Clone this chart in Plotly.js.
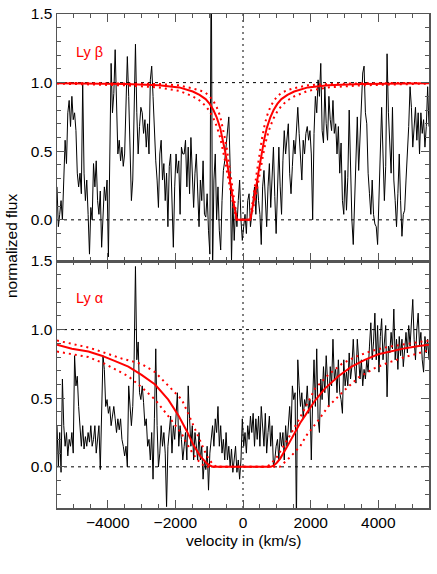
<!DOCTYPE html>
<html>
<head>
<meta charset="utf-8">
<script src="https://cdn.plot.ly/plotly-3.0.1.min.js"></script>
<style>
  html, body { margin: 0; padding: 0; background: white; }
  #chart { width: 437px; height: 574px; }
</style>
</head>
<body>
<div id="chart"></div>
<script>
// velocity grid of the spectra (km/s), shared by both panels
const velocity = [
    -5500,-5460,-5420,-5380,-5340,-5300,-5260,-5220,-5180,-5140,
    -5100,-5060,-5020,-4980,-4940,-4900,-4860,-4820,-4780,-4740,
    -4700,-4660,-4620,-4580,-4540,-4500,-4460,-4420,-4380,-4340,
    -4300,-4260,-4220,-4180,-4140,-4100,-4060,-4020,-3980,-3940,
    -3900,-3860,-3820,-3780,-3740,-3700,-3660,-3620,-3580,-3540,
    -3500,-3460,-3420,-3380,-3340,-3300,-3260,-3220,-3180,-3140,
    -3100,-3060,-3020,-2980,-2940,-2900,-2860,-2820,-2780,-2740,
    -2700,-2660,-2620,-2580,-2540,-2500,-2460,-2420,-2380,-2340,
    -2300,-2260,-2220,-2180,-2140,-2100,-2060,-2020,-1980,-1940,
    -1900,-1860,-1820,-1780,-1740,-1700,-1660,-1620,-1580,-1540,
    -1500,-1460,-1420,-1380,-1340,-1300,-1260,-1220,-1180,-1140,
    -1100,-1060,-1020,-980,-940,-900,-860,-820,-780,-740,
    -700,-660,-620,-580,-540,-500,-460,-420,-380,-340,
    -300,-260,-220,-180,-140,-100,-60,-20,20,60,
    100,140,180,220,260,300,340,380,420,460,
    500,540,580,620,660,700,740,780,820,860,
    900,940,980,1020,1060,1100,1140,1180,1220,1260,
    1300,1340,1380,1420,1460,1500,1540,1580,1620,1660,
    1700,1740,1780,1820,1860,1900,1940,1980,2020,2060,
    2100,2140,2180,2220,2260,2300,2340,2380,2420,2460,
    2500,2540,2580,2620,2660,2700,2740,2780,2820,2860,
    2900,2940,2980,3020,3060,3100,3140,3180,3220,3260,
    3300,3340,3380,3420,3460,3500,3540,3580,3620,3660,
    3700,3740,3780,3820,3860,3900,3940,3980,4020,4060,
    4100,4140,4180,4220,4260,4300,4340,4380,4420,4460,
    4500,4540,4580,4620,4660,4700,4740,4780,4820,4860,
    4900,4940,4980,5020,5060,5100,5140,5180,5220,5260,
    5300,5340,5380,5420,5460,5500
];

// normalized flux, Ly beta region (top panel)
const fluxLyb = [
    0.24,-0.05,0.04,0.14,0.0,0.34,0.58,0.41,0.78,0.87,
    0.68,0.90,0.73,0.78,0.65,0.34,0.24,0.34,0.19,1.0,
    0.34,0.14,0.29,0.04,-0.25,0.09,0.0,0.41,0.24,0.43,
    0.14,0.04,0.21,-0.2,0.09,0.24,0.14,0.29,-0.27,0.53,
    1.14,0.78,0.92,1.24,0.78,0.48,0.58,0.43,0.53,0.39,
    0.48,0.82,1.19,0.9,0.53,0.14,0.29,0.78,1.28,0.78,
    0.48,0.68,0.82,0.78,0.63,0.73,0.53,0.70,0.48,1.02,
    1.12,0.9,0.58,0.43,0.29,0.09,0.48,0.58,0.29,0.41,
    0.14,0.34,-0.05,0.39,0.48,0.09,-0.2,0.24,0.48,0.34,
    0.43,0.04,0.53,0.48,
    0.48,0.58,0.24,0.53,0.19,0.6,0.39,0.09,0.34,0.48,
    0.21,-0.05,0.29,0.14,0.43,0.04,0.02,0.19,-0.08,-0.25,
    2.0,-0.4,0.29,0.48,0.0,0.24,-0.08,-0.22,0.14,0.36,
    0.43,0.53,0.65,0.75,0.39,-0.3,0.14,-0.15,0.09,-0.05,
    0.14,0.29,0.0,-0.15,-0.05,0.04,-0.1,0.14,0.19,-0.05,
    0.04,0.14,0.24,0.04,0.29,0.14,0.04,-0.18,0.24,0.36,
    0.14,-0.05,0.24,0.41,0.09,0.34,0.53,0.17,-0.1,0.21,
    0.53,0.24,0.04,0.43,0.65,0.48,0.63,0.70,0.34,0.19,
    0.39,0.58,0.48,0.65,0.82,0.63,0.48,0.29,0.58,0.48,
    0.63,0.68,0.58,0.65,
    0.48,0.0,0.63,0.9,0.78,1.02,0.9,1.14,0.65,0.56,
    0.97,0.7,0.58,0.9,0.73,0.65,0.87,0.63,0.70,0.48,
    0.68,0.34,0.56,0.14,0.04,0.36,0.07,0.31,0.8,0.36,
    0.0,-0.18,0.19,0.39,0.75,0.36,0.58,0.9,1.07,1.12,
    0.78,0.7,0.34,0.19,0.04,0.29,0.04,-0.03,-0.05,-0.18,
    0.14,0.58,0.82,0.48,0.14,0.39,1.21,0.78,0.58,0.34,
    0.82,0.29,0.14,-0.05,0.19,0.48,0.14,-0.12,0.04,0.07,
    0.29,0.48,0.68,0.97,0.82,0.53,0.68,0.82,0.58,0.78,
    0.48,0.78,0.63,0.73,0.53,0.68,0.97,0.68
];

// normalized flux, Ly alpha region (bottom panel)
const fluxLya = [
    0.30,0,0.25,-0.04,0.64,0.30,0.15,0.25,0.08,0.2,
    0.15,0.25,0.10,0.81,0.59,0.66,0.44,0.25,0.15,0.30,
    0.13,0.22,0.15,0.25,0.18,0.30,0.15,0.2,0.30,0.10,
    0.2,0.30,-0.02,0.42,0.81,0.71,0.44,0.49,0.39,0.44,
    0.30,0.37,0.44,0.35,0.25,0.35,0.27,0.35,0.2,0.15,
    0.08,0.15,0,0.59,0.39,0.30,0.44,0.78,1.46,0.78,
    0.91,0.54,0.49,0.59,0.47,0.30,0.35,0.15,0.2,0.05,
    0.25,-0.09,0.35,0.86,0.30,0,0.10,0.30,0.15,0.25,
    0.10,-0.29,0.15,0.30,0.37,0.10,0.30,0.2,0.35,0.54,
    0.15,0.30,0.2,0.05,0.15,
    0.25,0.05,0.59,0.35,0.15,0.30,0.05,0.25,0.15,0.05,
    0.25,0.05,0.15,-0.09,0.05,-0.02,0.15,-0.17,0.10,0.2,
    0.30,0.15,0.35,0.25,0.44,0.15,0.30,0.10,0.2,0.05,
    0.25,0.05,0.15,0,0.13,-0.04,0.05,0.15,-0.04,0.05,
    -0.09,0.05,0.35,0.15,0.25,0.10,0.30,0.2,0.37,0.25,
    0.39,0.15,0.35,0.2,0.37,0.15,0.44,0.30,0.15,0.39,
    0.10,0.25,0.37,0.15,0.30,0,0.05,0.15,0.2,0.05,
    0.25,0.15,0.25,0.05,0.30,0.15,0.35,0.44,0.25,0.59,
    0.49,0.54,-0.4,0.78,0.59,0.44,0.54,0.35,0.49,0.44,
    0.59,0.39,0.49,
    0.05,0.49,0.78,0.44,0.86,0.35,0.25,0.64,0.49,0.73,
    0.54,0.81,0.66,0.44,0.73,0.59,0.93,0.64,0.71,0.54,
    0.78,0.54,0.49,0.39,0.78,0.59,0.69,0.59,0.83,0.64,
    0.73,0.93,0.73,0.61,0.93,0.78,0.64,0.78,0.59,0.71,
    0.64,0.78,0.69,0.88,1.05,0.78,0.91,1.12,0.78,1.03,
    0.69,0.95,1.08,0.78,0.93,1.03,0.51,0.88,0.83,0.98,
    0.86,1.15,0.78,0.93,0.71,0.95,0.81,0.93,0.73,0.88,
    0.98,0.83,1.03,0.88,1.08,1.22,0.93,0.78,1.0,1.12,
    0.88,0.98,0.78,0.69,0.95,0.83,0.93,0.78
];

// Ly beta absorption models: best fit and the two bounding fits
const lybModelV = [
    -5500,-3485,-2485,-1885,-1485,-1285,-1105,-985,-875,-775,
    -675,-600,-530,-480,-430,-380,-330,-275,-225,-205,-185,
    215,235,255,305,360,410,460,510,560,630,
    705,805,905,1015,1135,1315,1515,1915,2515,3515,5500
];
const lybFit = [
    0.995,0.99,0.98,0.965,0.935,0.91,0.88,0.845,0.80,0.745,
    0.67,0.59,0.50,0.43,0.35,0.27,0.19,0.12,0.06,0.025,0,
    0,0.025,0.06,0.12,0.19,0.27,0.35,0.43,0.50,0.59,
    0.67,0.745,0.80,0.845,0.88,0.91,0.935,0.965,0.98,0.99,0.995
];
const lybFitLow = [
    0.993,0.98,0.965,0.94,0.90,0.87,0.83,0.79,0.74,0.68,
    0.60,0.52,0.43,0.36,0.29,0.22,0.15,0.09,0.04,0.02,0,
    0,0.02,0.04,0.09,0.15,0.22,0.29,0.36,0.43,0.52,
    0.60,0.68,0.74,0.79,0.83,0.87,0.90,0.94,0.965,0.98,0.993
];
const lybFitHigh = [
    0.998,0.995,0.99,0.98,0.96,0.945,0.925,0.90,0.865,0.82,
    0.755,0.68,0.59,0.52,0.44,0.35,0.26,0.17,0.09,0.05,0,
    0,0.05,0.09,0.17,0.26,0.35,0.44,0.52,0.59,0.68,
    0.755,0.82,0.865,0.90,0.925,0.945,0.96,0.98,0.99,0.995,0.998
];

// Ly alpha absorption models
const lyaModelV = [
    -5500,-5060,-4570,-4180,-3780,-3390,-3000,-2600,-2210,-1900,
    -1660,-1470,-1270,-1070,-960,-880,820,900,1000,1100,
    1290,1490,1690,1880,2120,2420,2820,3210,3600,4000,
    4400,4800,5200,5500
];
const lyaFit = [
    0.89,0.86,0.84,0.81,0.77,0.73,0.67,0.60,0.49,0.37,
    0.26,0.16,0.08,0.025,0.008,0,0,0.008,0.03,0.06,
    0.14,0.23,0.32,0.39,0.48,0.57,0.66,0.73,0.78,0.82,
    0.845,0.865,0.88,0.89
];
const lyaHighV = [
    -5500,-4570,-3590,-3000,-2600,-2210,-1810,-1660,-1470,-1270,
    -1070,-900,-780,700,820,1000,1100,1390,1690,1930,
    2130,2520,2920,3310,3800,4300,4790,5280,5500
];
const lyaFitHigh = [
    0.92,0.87,0.79,0.75,0.69,0.59,0.49,0.41,0.30,0.19,
    0.08,0.02,0,0,0.02,0.07,0.11,0.23,0.36,0.48,
    0.57,0.67,0.75,0.80,0.845,0.875,0.895,0.915,0.92
];
const lyaLowV = [
    -5500,-4570,-4080,-3390,-3000,-2600,-2210,-1810,-1660,-1470,
    -1270,-1120,1090,1390,1690,1880,2230,2520,3010,3410,
    3900,4300,4790,5280,5500
];
const lyaFitLow = [
    0.84,0.80,0.75,0.66,0.58,0.49,0.37,0.24,0.17,0.09,
    0.03,0,0,0.07,0.15,0.23,0.34,0.44,0.56,0.65,
    0.72,0.76,0.80,0.835,0.85
];

const RED = '#ff0000';
const FRAME = '#555555';

function spectrumTrace(y, xa, ya) {
    return {
        x: velocity, y: y, xaxis: xa, yaxis: ya,
        type: 'scatter', mode: 'lines',
        line: { color: '#000000', width: 1 },
        hoverinfo: 'skip'
    };
}

function modelTrace(x, y, xa, ya, dotted) {
    return {
        x: x, y: y, xaxis: xa, yaxis: ya,
        type: 'scatter', mode: 'lines',
        line: dotted
            ? { color: RED, width: 2, dash: '2px,4px' }
            : { color: RED, width: 2 },
        hoverinfo: 'skip'
    };
}

const traces = [
    spectrumTrace(fluxLyb, 'x', 'y'),
    spectrumTrace(fluxLya, 'x2', 'y2'),
    modelTrace(lybModelV, lybFitLow, 'x', 'y', true),
    modelTrace(lybModelV, lybFitHigh, 'x', 'y', true),
    modelTrace(lybModelV, lybFit, 'x', 'y', false),
    modelTrace(lyaLowV, lyaFitLow, 'x2', 'y2', true),
    modelTrace(lyaHighV, lyaFitHigh, 'x2', 'y2', true),
    modelTrace(lyaModelV, lyaFit, 'x2', 'y2', false)
];

function xAxis(anchor, labels) {
    return {
        anchor: anchor, domain: [0, 1],
        range: [-5500, 5500],
        tick0: 0, dtick: 2000,
        ticks: 'inside', ticklen: 8, tickwidth: 1, tickcolor: FRAME,
        minor: { dtick: 500, ticks: 'inside', ticklen: 4, tickwidth: 1, tickcolor: FRAME },
        showticklabels: labels,
        showline: true, linecolor: FRAME, linewidth: 1.5, mirror: 'ticks',
        showgrid: false, zeroline: false,
        tickfont: { size: 15.5, color: '#000' }
    };
}

function yAxis(anchor, domain) {
    return {
        anchor: anchor, domain: domain,
        range: [-0.3, 1.5],
        tick0: 0, dtick: 0.5, tickformat: '.1f',
        ticks: 'inside', ticklen: 8, tickwidth: 1, tickcolor: FRAME,
        minor: { dtick: 0.1, ticks: 'inside', ticklen: 4, tickwidth: 1, tickcolor: FRAME },
        showline: true, linecolor: FRAME, linewidth: 1.5, mirror: 'ticks',
        showgrid: false, zeroline: false,
        tickfont: { size: 15.5, color: '#000' }
    };
}

function hLine(xref, yref, y) {
    return {
        type: 'line', layer: 'below', xref: xref, yref: yref,
        x0: -5500, x1: 5500, y0: y, y1: y,
        line: { color: '#000', width: 1, dash: '3px,4px' }
    };
}

const layout = {
    width: 437, height: 574,
    margin: { l: 57, r: 8, t: 14, b: 66 },
    paper_bgcolor: 'white', plot_bgcolor: 'white',
    showlegend: false,
    font: { family: 'Liberation Sans, Arial, Helvetica, sans-serif', size: 15.5, color: '#000' },
    xaxis: xAxis('y', false),
    yaxis: yAxis('x', [0.5, 1]),
    xaxis2: xAxis('y2', true),
    yaxis2: yAxis('x2', [0, 0.5]),
    shapes: [
        hLine('x', 'y', 1), hLine('x', 'y', 0),
        hLine('x2', 'y2', 1), hLine('x2', 'y2', 0),
        {
            type: 'line', layer: 'below', xref: 'x', yref: 'paper',
            x0: 0, x1: 0, y0: 0, y1: 1,
            line: { color: '#000', width: 1, dash: '2px,4px' }
        }
    ],
    annotations: [
        {
            text: 'Ly β', xref: 'x', yref: 'y', x: -5000, y: 1.22,
            xanchor: 'left', yanchor: 'middle', showarrow: false,
            font: { size: 14.5, color: RED }
        },
        {
            text: 'Ly α', xref: 'x2', yref: 'y2', x: -5000, y: 1.23,
            xanchor: 'left', yanchor: 'middle', showarrow: false,
            font: { size: 14.5, color: RED }
        },
        {
            text: 'velocity in (km/s)', xref: 'paper', yref: 'paper',
            x: 0.5, y: -0.065, xanchor: 'center', yanchor: 'middle',
            showarrow: false, font: { size: 15.5 }
        },
        {
            text: 'normalized flux', xref: 'paper', yref: 'paper',
            x: -0.124, y: 0.53, xanchor: 'center', yanchor: 'middle',
            textangle: -90, showarrow: false, font: { size: 15.5 }
        }
    ]
};

Plotly.newPlot('chart', traces, layout, { displayModeBar: false, staticPlot: true });
</script>
</body>
</html>
